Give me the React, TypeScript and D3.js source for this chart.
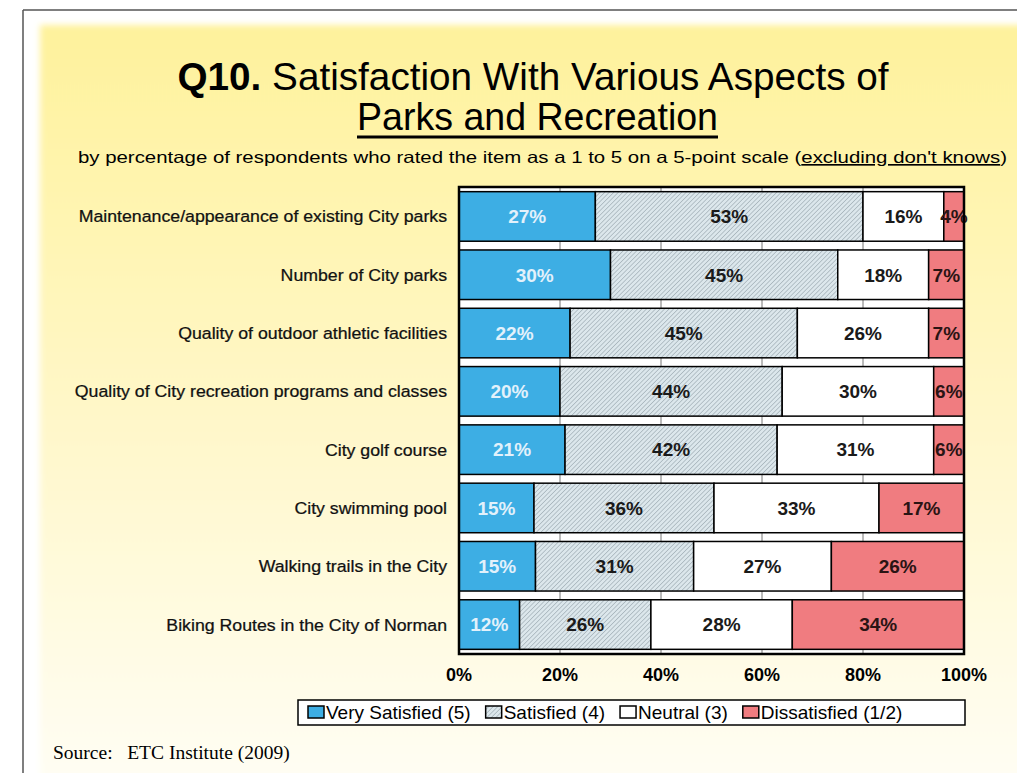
import React from 'react';
import * as d3 from 'd3';

const categories = [
  'Maintenance/appearance of existing City parks',
  'Number of City parks',
  'Quality of outdoor athletic facilities',
  'Quality of City recreation programs and classes',
  'City golf course',
  'City swimming pool',
  'Walking trails in the City',
  'Biking Routes in the City of Norman',
];
const verySatisfied = [27, 30, 22, 20, 21, 15, 15, 12];
const satisfied = [53, 45, 45, 44, 42, 36, 31, 26];
const neutral = [16, 18, 26, 30, 31, 33, 27, 28];
const dissatisfied = [4, 7, 7, 6, 6, 17, 26, 34];
const seriesNames = ['Very Satisfied (5)', 'Satisfied (4)', 'Neutral (3)', 'Dissatisfied (1/2)'];
const tickValues = [0, 0.2, 0.4, 0.6, 0.8, 1];

const W = 1017;
const H = 773;
const FONT = "Arial, 'Liberation Sans', sans-serif";

const keys = ['vs', 'sat', 'neu', 'dis'];
const rows = categories.map((c, i) => ({
  cat: c,
  vs: verySatisfied[i],
  sat: satisfied[i],
  neu: neutral[i],
  dis: dissatisfied[i],
}));

const fills = ['#3DAEE4', 'url(#hatch)', '#FFFFFF', '#F07C80'];
const labelColors = ['#E2F1FB', '#1A1A1A', '#1A1A1A', '#2A1414'];

function measure(text: string, font: string) {
  const c = document.createElement('canvas').getContext('2d');
  if (!c) return text.length * 9;
  c.font = font;
  return c.measureText(text).width;
}

export default function App() {
  const plot = { left: 459, right: 964, top: 187, bottom: 654 };
  const x = d3.scaleLinear().domain([0, 1]).range([plot.left, plot.right]);
  const y = d3
    .scaleBand<string>()
    .domain(categories)
    .range([plot.top, plot.bottom])
    .paddingInner(0.15)
    .paddingOuter(0.08);

  const stacked = d3.stack<any>().keys(keys).offset(d3.stackOffsetExpand)(rows);

  // legend layout
  const legendSize = 19;
  const legendFont = `${legendSize}px ${FONT}`;
  const legendItems: { name: string; x: number }[] = [];
  let lx = 308;
  seriesNames.forEach((n) => {
    legendItems.push({ name: n, x: lx });
    lx += 18 + measure(n, legendFont) + 15;
  });

  return (
    <svg
      width={W}
      height={H}
      style={{ position: 'absolute', left: 0, top: 0 }}
      xmlns="http://www.w3.org/2000/svg"
    >
      <defs>
        <linearGradient id="bg" x1="0" y1="0" x2="0" y2="1">
          <stop offset="0" stopColor="#FEF29C" />
          <stop offset="0.3" stopColor="#FFF5B6" />
          <stop offset="0.65" stopColor="#FFF9D6" />
          <stop offset="1" stopColor="#FFFEF6" />
        </linearGradient>
        <filter id="soft" x="-5%" y="-5%" width="110%" height="110%">
          <feGaussianBlur stdDeviation="3" />
        </filter>
        <pattern
          id="hatch"
          patternUnits="userSpaceOnUse"
          width="3.2"
          height="3.2"
          patternTransform="rotate(45)"
        >
          <rect width="3.2" height="3.2" fill="#DCE7EC" />
          <line x1="0" y1="0" x2="0" y2="3.2" stroke="#8C9BA2" strokeWidth="1" />
        </pattern>
      </defs>

      <rect x={0} y={0} width={W} height={H} fill="#FFFFFF" />
      <rect x={40} y={25} width={W} height={H} fill="url(#bg)" filter="url(#soft)" />
      <line x1={23} y1={10} x2={W} y2={10} stroke="#555" strokeWidth={1.5} />
      <line x1={23} y1={10} x2={23} y2={H} stroke="#555" strokeWidth={1.5} />

      {/* Title */}
      <text
        x={533}
        y={90}
        textAnchor="middle"
        fontFamily={FONT}
        fontSize={39}
        fill="#000"
        textLength={711}
        lengthAdjust="spacingAndGlyphs"
      >
        <tspan fontWeight="bold">Q10.</tspan>
        <tspan> Satisfaction With Various Aspects of</tspan>
      </text>
      <text
        x={537.5}
        y={130}
        textAnchor="middle"
        fontFamily={FONT}
        fontSize={39}
        fill="#000"
        textLength={361}
        lengthAdjust="spacingAndGlyphs"
      >
        Parks and Recreation
      </text>
      <line x1={357} y1={137} x2={718} y2={137} stroke="#000" strokeWidth={3} />
      <text
        x={542.5}
        y={163}
        textAnchor="middle"
        fontFamily={FONT}
        fontSize={16.5}
        fill="#000"
        textLength={929}
        lengthAdjust="spacingAndGlyphs"
      >
        <tspan>by percentage of respondents who rated the item as a 1 to 5 on a 5-point scale (</tspan>
        <tspan textDecoration="underline">excluding don't knows</tspan>
        <tspan>)</tspan>
      </text>

      {/* Plot background */}
      <rect
        x={plot.left}
        y={plot.top}
        width={plot.right - plot.left}
        height={plot.bottom - plot.top}
        fill="#FFFFFF"
      />
      {tickValues.slice(1, -1).map((t) => (
        <line
          key={t}
          x1={x(t)}
          x2={x(t)}
          y1={plot.top}
          y2={plot.bottom}
          stroke="#777"
          strokeWidth={1}
        />
      ))}

      {/* Bars */}
      {stacked.map((s, si) => (
        <g key={s.key}>
          {s.map((d, i) => (
            <rect
              key={i}
              x={x(d[0])}
              y={y(categories[i])}
              width={x(d[1]) - x(d[0])}
              height={y.bandwidth()}
              fill={fills[si]}
              stroke="#000"
              strokeWidth={1.5}
            />
          ))}
        </g>
      ))}
      {stacked.map((s, si) => (
        <g key={'l' + s.key}>
          {s.map((d, i) => (
            <text
              key={i}
              x={(x(d[0]) + x(d[1])) / 2}
              y={(y(categories[i]) as number) + y.bandwidth() / 2}
              dy="0.36em"
              textAnchor="middle"
              fontFamily={FONT}
              fontWeight="bold"
              fontSize={19}
              fill={labelColors[si]}
            >
              {`${(rows[i] as any)[keys[si]]}%`}
            </text>
          ))}
        </g>
      ))}

      {/* Plot frame */}
      <rect
        x={plot.left}
        y={plot.top}
        width={plot.right - plot.left}
        height={plot.bottom - plot.top}
        fill="none"
        stroke="#000"
        strokeWidth={2.5}
      />

      {/* Category labels */}
      {categories.map((c) => (
        <text
          key={c}
          transform={`translate(447,${(y(c) as number) + y.bandwidth() / 2}) scale(1.075,1)`}
          x={0}
          y={0}
          dy="0.36em"
          textAnchor="end"
          fontFamily={FONT}
          fontSize={16.5}
          fill="#111"
          stroke="#111"
          strokeWidth={0.25}
        >
          {c}
        </text>
      ))}

      {/* X axis labels */}
      {tickValues.map((t) => (
        <text
          key={t}
          x={x(t)}
          y={681}
          textAnchor="middle"
          fontFamily={FONT}
          fontWeight="bold"
          fontSize={18}
          fill="#000"
        >
          {d3.format('.0%')(t)}
        </text>
      ))}

      {/* Legend */}
      <rect x={298} y={700} width={667} height={25} fill="#FFFFFF" stroke="#000" strokeWidth={1.5} />
      {legendItems.map((it, i) => (
        <g key={it.name}>
          <rect
            x={it.x}
            y={706}
            width={16}
            height={12}
            fill={fills[i]}
            stroke="#000"
            strokeWidth={1.5}
          />
          <text x={it.x + 18} y={719} fontFamily={FONT} fontSize={legendSize} fill="#000">
            {it.name}
          </text>
        </g>
      ))}

      {/* Source */}
      <text
        x={53}
        y={759}
        fontFamily="'Times New Roman', 'Liberation Serif', serif"
        fontSize={19.5}
        fill="#000"
      >
        Source:{'\u00A0\u00A0\u00A0'}ETC Institute (2009)
      </text>
    </svg>
  );
}
